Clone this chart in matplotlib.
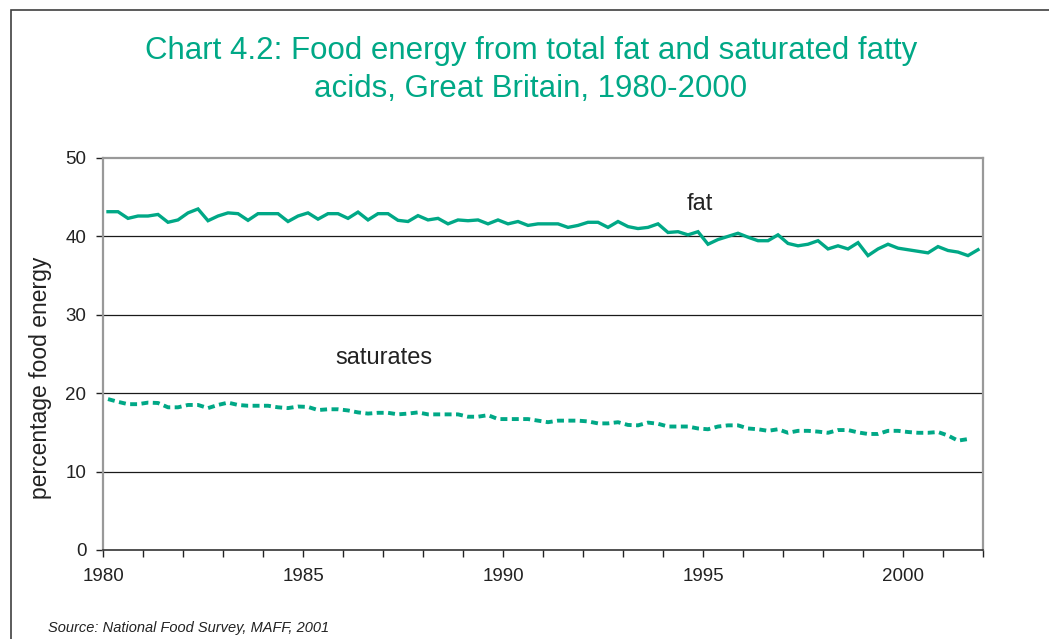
import numpy as np
import matplotlib
matplotlib.use('Agg')
import matplotlib.pyplot as plt
from matplotlib.patches import Rectangle

plt.rcParams['font.family'] = ['Liberation Sans', 'DejaVu Sans']
plt.rcParams['lines.scale_dashes'] = False

GREEN = '#00a886'

# quarterly series, 1980 Q1 .. 2001 Q4
start_year = 1980
fat = [43.15, 43.15, 42.3, 42.6, 42.6, 42.8, 41.8, 42.1, 43.0, 43.5,
       42.0, 42.6, 43.0, 42.9, 42.05, 42.9, 42.9, 42.9, 41.9, 42.6,
       43.0, 42.2, 42.9, 42.9, 42.3, 43.1, 42.1, 42.9, 42.9, 42.05,
       41.9, 42.65, 42.1, 42.3, 41.6, 42.1, 42.0, 42.1, 41.6, 42.1,
       41.6, 41.9, 41.4, 41.6, 41.6, 41.6, 41.15, 41.4, 41.8, 41.8,
       41.15, 41.9, 41.25, 41.0, 41.15, 41.6, 40.5, 40.6, 40.2, 40.6,
       39.0, 39.6, 40.0, 40.4, 39.9, 39.45, 39.45, 40.2, 39.1, 38.8,
       39.0, 39.45, 38.4, 38.8, 38.4, 39.2, 37.55, 38.4, 39.0, 38.5,
       38.3, 38.1, 37.9, 38.7, 38.2, 38.0, 37.55, 38.3]
saturates = [19.25, 18.9, 18.6, 18.6, 18.8, 18.75, 18.2, 18.2, 18.5, 18.5,
             18.1, 18.5, 18.8, 18.5, 18.4, 18.4, 18.4, 18.2, 18.1, 18.3,
             18.25, 17.85, 17.95, 17.95, 17.8, 17.55, 17.4, 17.5, 17.5, 17.3,
             17.4, 17.55, 17.3, 17.3, 17.3, 17.3, 17.0, 17.0, 17.2, 16.7,
             16.7, 16.7, 16.7, 16.5, 16.3, 16.5, 16.5, 16.5, 16.4, 16.15,
             16.15, 16.3, 15.95, 15.9, 16.25, 16.1, 15.75, 15.75, 15.75, 15.5,
             15.4, 15.75, 15.9, 15.9, 15.5, 15.4, 15.2, 15.4, 14.95, 15.2,
             15.2, 15.1, 14.95, 15.3, 15.3, 15.0, 14.8, 14.8, 15.2, 15.2,
             15.05, 14.95, 14.95, 15.05, 14.6, 13.95, 14.15, np.nan]

year_labels = [1980, 1985, 1990, 1995, 2000]
y_ticks = [0, 10, 20, 30, 40, 50]

x = start_year + (np.arange(len(fat)) + 0.5) / 4

fig = plt.figure(figsize=(10.49, 6.39), dpi=100)
# outer chart frame (runs off the right and bottom edges)
fig.patches.append(Rectangle((11/1049, -0.05), 1.1, 1 - 10/639 + 0.05,
                             transform=fig.transFigure, fill=False,
                             edgecolor='#404040', lw=1.2))

ax = fig.add_axes([103/1049, 1 - 550/639, 880/1049, 392/639])
ax.plot(x, fat, '-', color=GREEN, lw=2.4, solid_joinstyle='miter')
ax.plot(x, saturates, color=GREEN, lw=2.8, dashes=(5, 3.2))

ax.set_xlim(1980, 2002)
ax.set_ylim(0, 50)
ax.set_yticks(y_ticks)
ax.set_xticks(np.arange(1980, 2003))
ax.set_xticklabels([str(y) if y in year_labels else '' for y in range(1980, 2003)])
ax.tick_params(axis='both', labelsize=13.5, colors='#222222', direction='out', length=5, width=1)
ax.tick_params(axis='x', pad=8)
ax.tick_params(axis='y', pad=7)
for v in y_ticks[1:-1]:
    ax.axhline(v, color='#1a1a1a', lw=0.9, zorder=0)
for s in ['left', 'right', 'top']:
    ax.spines[s].set_color('#999999')
    ax.spines[s].set_linewidth(1.6)
ax.spines['bottom'].set_color('#333333')
ax.spines['bottom'].set_linewidth(1.2)

ax.set_ylabel('percentage food energy', fontsize=16.5, color='#222222')
ax.yaxis.set_label_coords(-0.058, 0.44)
ax.text(1994.6, 44.1, 'fat', fontsize=17, color='#222222', va='center')
ax.text(1985.8, 24.5, 'saturates', fontsize=17, color='#222222', va='center')

fig.text(0.506, 1 - 70/639, 'Chart 4.2: Food energy from total fat and saturated fatty\nacids, Great Britain, 1980-2000',
         ha='center', va='center', fontsize=22.5, color=GREEN, linespacing=1.38)
fig.text(48/1049, 1 - 628/639, 'Source: National Food Survey, MAFF, 2001',
         ha='left', va='center', fontsize=10.5, style='italic', color='#222222')

fig.savefig('out.png', dpi=100)
